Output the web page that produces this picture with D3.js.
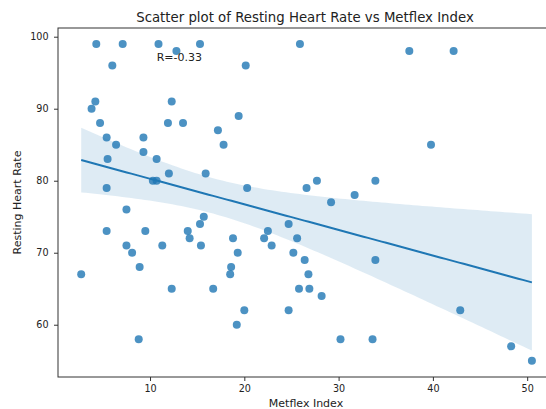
<!DOCTYPE html>
<html lang="en">
<head>
<meta charset="UTF-8">
<title>Scatter plot of Resting Heart Rate vs Metflex Index</title>
<style>
  body { margin: 0; background: #fff; }
  text { font-family: "DejaVu Sans", sans-serif; fill: #222; }
</style>
</head>
<body>
<script src="https://d3js.org/d3.v7.min.js"></script>
<script>

// Metflex index (x) and resting heart rate (y)
const metflex = [
    4.3, 7.1, 10.9, 15.3, 25.9, 12.8, 37.5, 42.2, 6.0, 20.15,
    4.2, 12.3, 3.8, 19.4, 4.7, 11.9, 13.5, 17.2, 5.4, 9.3,
    6.4, 17.8, 39.8, 9.3, 5.5, 10.7, 12.0, 15.9, 10.3, 10.7,
    27.7, 33.9, 5.4, 20.3, 26.6, 31.7, 29.2, 7.5, 15.7, 15.3,
    24.7, 5.4, 9.5, 14.0, 22.5, 14.2, 18.8, 22.1, 25.6, 7.5,
    11.3, 15.4, 22.9, 8.1, 19.3, 25.2, 26.4, 33.9, 8.9, 18.6,
    2.7, 18.5, 26.8, 12.3, 16.7, 25.8, 26.9, 28.2, 20.0, 24.7,
    42.9, 19.2, 8.8, 30.2, 33.6, 48.3, 50.5
];
const heartRate = [
    99, 99, 99, 99, 99, 98, 98, 98, 96, 96,
    91, 91, 90, 89, 88, 88, 88, 87, 86, 86,
    85, 85, 85, 84, 83, 83, 81, 81, 80, 80,
    80, 80, 79, 79, 79, 78, 77, 76, 75, 74,
    74, 73, 73, 73, 73, 72, 72, 72, 72, 71,
    71, 71, 71, 70, 70, 70, 69, 69, 68, 68,
    67, 67, 67, 65, 65, 65, 65, 64, 62, 62,
    62, 60, 58, 58, 58, 57, 55
];
const xTicks = [10, 20, 30, 40, 50];
const yTicks = [60, 70, 80, 90, 100];
const rLabel = "R=-0.33";

const width = 546, height = 409;
const margin = { top: 28, left: 58 };
const plotW = 497, plotH = 349;

const points = metflex.map((x, i) => ({ x: x, y: heartRate[i] }));

const svg = d3.select('body').append('svg')
    .attr('width', width)
    .attr('height', height);

const xScale = d3.scaleLinear()
    .domain([0.24, 52.95])
    .range([margin.left, margin.left + plotW]);

const yScale = d3.scaleLinear()
    .domain([52.74, 101.21])
    .range([margin.top + plotH, margin.top]);

// least squares fit
const n = points.length;
const mx = d3.mean(points, d => d.x);
const my = d3.mean(points, d => d.y);
const sxx = d3.sum(points, d => (d.x - mx) ** 2);
const sxy = d3.sum(points, d => (d.x - mx) * (d.y - my));
const slope = sxy / sxx;
const icpt = my - slope * mx;

// 95% band, robust (sandwich) variance ~ what a pairs bootstrap gives
const res = points.map(d => d.y - (icpt + slope * d.x));
const m00 = d3.sum(res, e => e * e);
const m01 = d3.sum(points, (d, i) => res[i] ** 2 * (d.x - mx));
const m11 = d3.sum(points, (d, i) => res[i] ** 2 * (d.x - mx) ** 2);
const v00 = m00 / (n * n), v01 = m01 / (n * sxx), v11 = m11 / (sxx * sxx);
const z = 1.96;

const [xmin, xmax] = d3.extent(metflex);
const grid = d3.range(100).map(i => xmin + (xmax - xmin) * i / 99);
const band = grid.map(x => {
    const u = x - mx;
    const yhat = icpt + slope * x;
    const se = Math.sqrt(v00 + 2 * u * v01 + u * u * v11);
    return { x: x, y: yhat, lo: yhat - z * se, hi: yhat + z * se };
});

const plot = svg.append('g');

plot.append('path')
    .datum(band)
    .attr('fill', '#1f77b4')
    .attr('fill-opacity', 0.15)
    .attr('d', d3.area()
        .x(d => xScale(d.x))
        .y0(d => yScale(d.lo))
        .y1(d => yScale(d.hi)));

plot.selectAll('circle')
    .data(points)
    .enter()
    .append('circle')
    .attr('cx', d => xScale(d.x))
    .attr('cy', d => yScale(d.y))
    .attr('r', 4)
    .attr('fill', '#1f77b4')
    .attr('fill-opacity', 0.8);

plot.append('path')
    .datum(band)
    .attr('fill', 'none')
    .attr('stroke', '#1f77b4')
    .attr('stroke-width', 2)
    .attr('d', d3.line()
        .x(d => xScale(d.x))
        .y(d => yScale(d.y)));

// axes
const xAxis = svg.append('g')
    .attr('transform', `translate(0,${margin.top + plotH})`)
    .call(d3.axisBottom(xScale).tickValues(xTicks).tickSize(4).tickPadding(4.5));

const yAxis = svg.append('g')
    .attr('transform', `translate(${margin.left},0)`)
    .call(d3.axisLeft(yScale).tickValues(yTicks).tickSize(4).tickPadding(5.5));

[xAxis, yAxis].forEach(a => {
    a.select('.domain').remove();
    a.selectAll('line').attr('stroke', '#333');
    a.selectAll('text')
        .style('font-family', '"DejaVu Sans", sans-serif')
        .style('font-size', '9.6px')
        .attr('fill', '#222');
});

// frame
svg.append('rect')
    .attr('x', margin.left)
    .attr('y', margin.top)
    .attr('width', plotW)
    .attr('height', plotH)
    .attr('fill', 'none')
    .attr('stroke', '#333')
    .attr('stroke-width', 1);

// texts
svg.append('text')
    .attr('x', 305)
    .attr('y', 22)
    .attr('text-anchor', 'middle')
    .style('font-size', '13.3px')
    .text('Scatter plot of Resting Heart Rate vs Metflex Index');

svg.append('text')
    .attr('x', 306)
    .attr('y', 407)
    .attr('text-anchor', 'middle')
    .style('font-size', '11px')
    .text('Metflex Index');

svg.append('text')
    .attr('transform', `translate(21,${margin.top + plotH / 2}) rotate(-90)`)
    .attr('text-anchor', 'middle')
    .style('font-size', '11px')
    .text('Resting Heart Rate');

svg.append('text')
    .attr('x', xScale(10.7))
    .attr('y', 61)
    .style('font-size', '11px')
    .text(rLabel);

</script>
</body>
</html>
